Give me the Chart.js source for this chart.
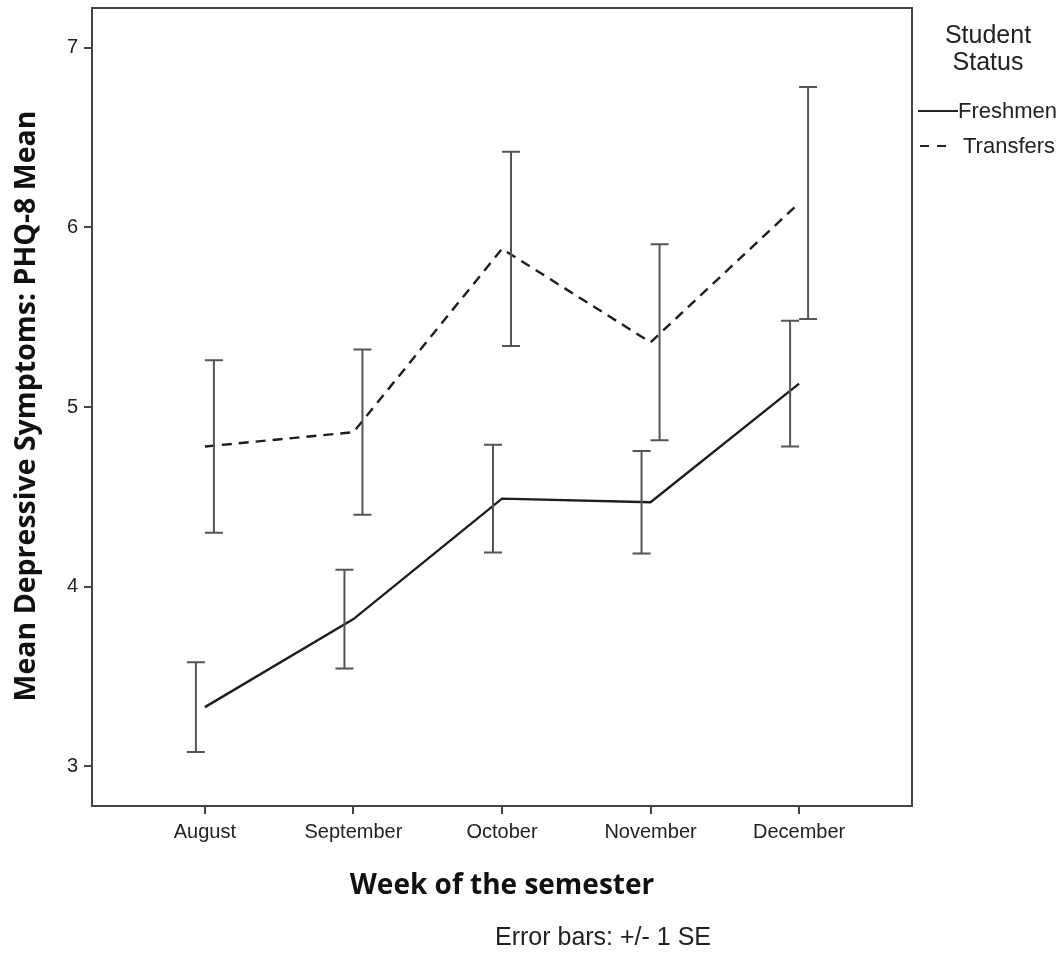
<!DOCTYPE html>
<html>
<head>
<meta charset="utf-8">
<script src="https://cdn.jsdelivr.net/npm/chart.js@4/dist/chart.umd.min.js"></script>
<style>
  html, body { margin: 0; padding: 0; background: #fff; }
  #chart { display: block; }
</style>
</head>
<body>
<canvas id="chart" width="1062" height="976"></canvas>
<script>
// données
const months = ["August", "September", "October", "November", "December"];
const freshMean = [3.33, 3.82, 4.49, 4.47, 5.13];
const freshSE = [0.25, 0.275, 0.30, 0.285, 0.35];
const transMean = [4.78, 4.86, 5.88, 5.36, 6.135];
const transSE = [0.48, 0.46, 0.54, 0.545, 0.645];
const yTicks = [3, 4, 5, 6, 7];

const sans = "'Liberation Sans', Arial, sans-serif";
const bold = "'Open Sans', 'DejaVu Sans', sans-serif";

// barres d'erreur (+/- 1 SE), décalées de part et d'autre du mois
const errorBars = {
    id: "errorBars",
    afterDatasetsDraw(chart) {
        const { ctx, scales: { x, y } } = chart;
        const series = [[freshMean, freshSE, -9], [transMean, transSE, 9]];
        ctx.save();
        ctx.strokeStyle = "#555";
        ctx.lineWidth = 2;
        series.forEach(([mean, se, dx]) => {
            mean.forEach((m, i) => {
                const px = x.getPixelForValue(i) + dx;
                const top = y.getPixelForValue(m + se[i]);
                const bot = y.getPixelForValue(m - se[i]);
                ctx.beginPath();
                ctx.moveTo(px, top); ctx.lineTo(px, bot);
                ctx.moveTo(px - 9, top); ctx.lineTo(px + 9, top);
                ctx.moveTo(px - 9, bot); ctx.lineTo(px + 9, bot);
                ctx.stroke();
            });
        });
        ctx.restore();
    }
};

// cadre, titres, légende et note
const decorations = {
    id: "decorations",
    afterDraw(chart) {
        const { ctx, chartArea: a } = chart;
        ctx.save();
        ctx.strokeStyle = "#444";
        ctx.lineWidth = 2;
        ctx.strokeRect(a.left, a.top, a.right - a.left, a.bottom - a.top);

        ctx.fillStyle = "#111";
        ctx.textAlign = "center";
        ctx.textBaseline = "middle";
        ctx.font = "bold 28px " + bold;
        ctx.fillText("Week of the semester", (a.left + a.right) / 2, 886);
        ctx.save();
        ctx.translate(27, 406);
        ctx.rotate(-Math.PI / 2);
        ctx.font = "bold 28.5px " + bold;
        ctx.fillText("Mean Depressive Symptoms: PHQ-8 Mean", 0, 0);
        ctx.restore();

        ctx.fillStyle = "#222";
        ctx.font = "25px " + sans;
        ctx.fillText("Error bars: +/- 1 SE", 603, 938);
        ctx.fillText("Student", 988, 36);
        ctx.fillText("Status", 988, 63);

        ctx.textAlign = "left";
        ctx.font = "22px " + sans;
        ctx.fillText("Freshmen", 958, 112);
        ctx.fillText("Transfers", 963, 147);

        ctx.strokeStyle = "#222";
        ctx.beginPath();
        ctx.moveTo(918, 111); ctx.lineTo(958, 111);
        ctx.stroke();
        ctx.setLineDash([9, 8]);
        ctx.beginPath();
        ctx.moveTo(920, 146); ctx.lineTo(952, 146);
        ctx.stroke();
        ctx.restore();
    }
};

const tickFont = { family: sans, size: 20 };

new Chart(document.getElementById("chart"), {
    type: "line",
    data: {
        datasets: [
            {
                label: "Freshmen",
                data: freshMean.map((v, i) => ({ x: i, y: v })),
                borderColor: "#1e1e1e", borderWidth: 2.4, pointRadius: 0, tension: 0
            },
            {
                label: "Transfers",
                data: transMean.map((v, i) => ({ x: i, y: v })),
                borderColor: "#1e1e1e", borderWidth: 2.4, borderDash: [10, 7], pointRadius: 0, tension: 0
            }
        ]
    },
    options: {
        responsive: false,
        animation: false,
        devicePixelRatio: 1,
        layout: { padding: { top: 8, right: 150, left: 0, bottom: 0 } },
        plugins: { legend: { display: false }, tooltip: { enabled: false } },
        scales: {
            x: {
                type: "linear", min: -0.76, max: 4.76,
                afterBuildTicks: s => { s.ticks = months.map((m, i) => ({ value: i })); },
                afterFit: s => { s.height = 170; },
                ticks: { callback: v => months[v], font: tickFont, color: "#222", padding: 6, autoSkip: false, maxRotation: 0 },
                grid: { drawOnChartArea: false, tickLength: 8, color: "#444", lineWidth: 2 },
                border: { display: false }
            },
            y: {
                min: 2.78, max: 7.22,
                afterBuildTicks: s => { s.ticks = yTicks.map(v => ({ value: v })); },
                afterFit: s => { s.width = 92; s.paddingTop = 0; s.paddingBottom = 0; },
                ticks: { font: { family: sans, size: 20, lineHeight: 0.4 }, color: "#222", padding: 6 },
                grid: { drawOnChartArea: false, tickLength: 8, color: "#444", lineWidth: 2 },
                border: { display: false }
            }
        }
    },
    plugins: [errorBars, decorations]
});
</script>
</body>
</html>
